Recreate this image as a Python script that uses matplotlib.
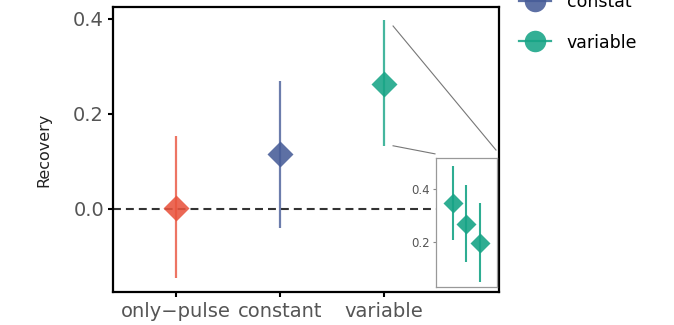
import matplotlib
matplotlib.use('Agg')
import matplotlib.pyplot as plt
from matplotlib.lines import Line2D

# main estimates
groups = ['only\u2212pulse', 'constant', 'variable']
est = [0.003, 0.116, 0.263]
lo = [-0.145, -0.040, 0.133]
hi = [0.154, 0.270, 0.398]
colors = ['#E9533D', '#475C98', '#17A486']

# zoomed inset (variable)
inset_x = [1, 2, 3]
inset_est = [0.347, 0.268, 0.196]
inset_lo = [0.207, 0.124, 0.050]
inset_hi = [0.487, 0.415, 0.347]

legend_labels = ['only\u2212pulse', 'constat', 'variable']

plt.rcParams['font.family'] = ['DejaVu Sans']

fig = plt.figure(figsize=(6.74, 3.25), dpi=100)
ax = fig.add_axes([0.1677, 0.1025, 0.5727, 0.8745])

ax.axhline(0, color='#333333', lw=1.5, dashes=(3.8, 2.4), zorder=1)

xs = list(range(1, len(groups) + 1))
for i in range(len(groups)):
    ax.plot([xs[i], xs[i]], [lo[i], hi[i]], color=colors[i], lw=1.6,
            alpha=0.8, zorder=2, solid_capstyle='butt')
    ax.plot(xs[i], est[i], marker='D', ms=13.5, color=colors[i],
            mec='none', alpha=0.88, zorder=3)

ax.set_xlim(0.394, 4.106)
ax.set_ylim(-0.174, 0.424)
ax.set_xticks(xs)
ax.set_xticklabels(groups)
ax.set_yticks([0.0, 0.2, 0.4])
ax.set_yticklabels(['0.0', '0.2', '0.4'])
ax.tick_params(axis='both', labelsize=14, labelcolor='#555555', length=3.5,
               width=1.5, color='black', pad=3)
ax.tick_params(axis='x', pad=4)
for s in ax.spines.values():
    s.set_linewidth(1.6)
    s.set_color('black')
ax.set_ylabel('Recovery', fontsize=11.5, color='#222222', labelpad=16)

# connector lines from zoom region to inset
ax.plot([3.087, 4.077], [0.385, 0.124], color='#777777', lw=0.8, clip_on=False, zorder=4)
ax.plot([3.087, 3.49], [0.133, 0.116], color='#777777', lw=0.8, clip_on=False, zorder=4)

ins = fig.add_axes([0.6469, 0.1169, 0.0905, 0.397])
ins.set_facecolor('white')
for j in range(len(inset_x)):
    ins.plot([inset_x[j], inset_x[j]], [inset_lo[j], inset_hi[j]],
             color=colors[2], lw=1.5, alpha=0.9, solid_capstyle='butt')
    ins.plot(inset_x[j], inset_est[j], marker='D', ms=10, color=colors[2],
             mec='none', alpha=0.9)
ins.set_xlim(-0.24, 4.26)
ins.set_ylim(0.03, 0.517)
ins.set_xticks([])
ins.set_yticks([0.2, 0.4])
ins.set_yticklabels(['0.2', '0.4'])
ins.tick_params(axis='y', labelsize=8.5, labelcolor='#555555', length=2.5,
                width=0.8, color='#888888', pad=2)
for s in ins.spines.values():
    s.set_linewidth(0.9)
    s.set_color('#999999')

handles = [Line2D([0], [0], color=c, lw=1.6, marker='o', ms=15.5,
                  mec='none', alpha=0.88) for c in colors]
fig.legend(handles, legend_labels, loc='center left',
           bbox_to_anchor=(0.770, 0.994), frameon=False, fontsize=12.5,
           borderpad=0, borderaxespad=0, handlelength=1.85,
           handletextpad=0.9, labelspacing=1.3)

fig.savefig('out.png', dpi=100)
